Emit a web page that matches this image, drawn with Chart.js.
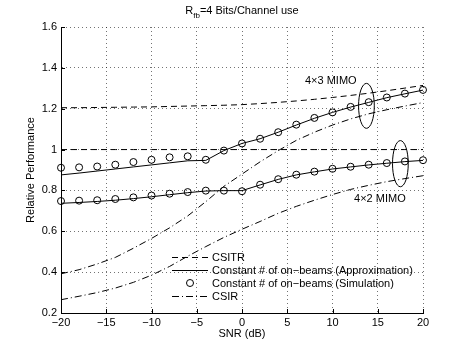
<!DOCTYPE html>
<html>
<head>
<meta charset="utf-8">
<script src="https://cdn.jsdelivr.net/npm/chart.js@4.4.1/dist/chart.umd.min.js"></script>
<style>
  body { margin: 0; background: #fff; }
</style>
</head>
<body>
<canvas id="myChart" width="466" height="350"></canvas>
<script>
const snr = [-20, -18, -16, -14, -12, -10, -8, -6, -4, -2, 0, 2, 4, 6, 8, 10, 12, 14, 16, 18, 20];
const xTicks = [-20, -15, -10, -5, 0, 5, 10, 15, 20];
const yTicks = [0.2, 0.4, 0.6, 0.8, 1, 1.2, 1.4, 1.6];

// 4x3 MIMO
const csitr43  = [1.205, 1.205, 1.206, 1.207, 1.208, 1.209, 1.211, 1.213, 1.215, 1.217, 1.220, 1.225, 1.231, 1.238, 1.246, 1.255, 1.265, 1.276, 1.288, 1.301, 1.314];
const approx43 = [0.876, 0.885, 0.895, 0.905, 0.915, 0.925, 0.935, 0.945, 0.947, 0.995, 1.030, 1.053, 1.085, 1.120, 1.153, 1.182, 1.208, 1.231, 1.254, 1.273, 1.291];
const sim43    = [0.911, 0.913, 0.917, 0.926, 0.939, 0.950, 0.962, 0.967, 0.950, 0.995, 1.030, 1.053, 1.085, 1.122, 1.155, 1.182, 1.209, 1.232, 1.255, 1.274, 1.292];
const csir43   = [0.392, 0.412, 0.440, 0.472, 0.517, 0.565, 0.617, 0.675, 0.745, 0.820, 0.880, 0.940, 0.995, 1.045, 1.085, 1.120, 1.150, 1.175, 1.195, 1.213, 1.230];

// 4x2 MIMO
const csitr42  = [1, 1, 1, 1, 1, 1, 1, 1, 1, 1, 1, 1, 1, 1, 1, 1, 1, 1, 1, 1, 1];
const approx42 = [0.737, 0.741, 0.746, 0.752, 0.760, 0.769, 0.779, 0.789, 0.797, 0.799, 0.799, 0.827, 0.854, 0.876, 0.891, 0.905, 0.915, 0.925, 0.933, 0.941, 0.947];
const sim42    = [0.748, 0.750, 0.752, 0.758, 0.766, 0.775, 0.784, 0.792, 0.799, 0.799, 0.796, 0.828, 0.855, 0.877, 0.892, 0.906, 0.916, 0.926, 0.934, 0.942, 0.948];
const csir42   = [0.265, 0.282, 0.300, 0.322, 0.350, 0.385, 0.428, 0.478, 0.525, 0.570, 0.610, 0.648, 0.688, 0.722, 0.752, 0.780, 0.805, 0.825, 0.843, 0.858, 0.872];

const legendLabels = ["CSITR", "Constant # of on\u2212beams (Approximation)", "Constant # of on\u2212beams (Simulation)", "CSIR"];

const FONT = "11px 'Liberation Sans', Arial, sans-serif";
const DASH = [6, 4];
const DASHDOT = [7, 3, 1, 3];

const pts = arr => snr.map((x, i) => ({x: x, y: arr[i]}));

function lineSet(arr, dash) {
  return {
    data: pts(arr),
    borderColor: "#000",
    borderWidth: 1,
    borderDash: dash,
    pointRadius: 0,
    fill: false,
    tension: 0
  };
}

function circleSet(arr) {
  return {
    data: pts(arr),
    showLine: false,
    pointRadius: 3.5,
    pointHoverRadius: 3.5,
    pointBorderWidth: 1,
    pointBorderColor: "#000",
    pointBackgroundColor: "rgba(0,0,0,0)",
    clip: false
  };
}

// title with subscript
const titlePlugin = {
  id: "titleSub",
  afterDraw(chart) {
    const ctx = chart.ctx;
    const a = chart.chartArea;
    const big = "11px 'Liberation Sans', Arial, sans-serif";
    const small = "8px 'Liberation Sans', Arial, sans-serif";
    ctx.save();
    ctx.fillStyle = "#000";
    ctx.textBaseline = "alphabetic";
    ctx.font = big;
    const w1 = ctx.measureText("R").width;
    const w3 = ctx.measureText("=4 Bits/Channel use").width;
    ctx.font = small;
    const w2 = ctx.measureText("fb").width;
    let x = (a.left + a.right) / 2 - (w1 + w2 + w3) / 2;
    const y = 14;
    ctx.font = big;
    ctx.fillText("R", x, y);
    x += w1;
    ctx.font = small;
    ctx.fillText("fb", x, y + 4);
    x += w2;
    ctx.font = big;
    ctx.fillText("=4 Bits/Channel use", x, y);
    ctx.restore();
  }
};

// inward tick marks on left and bottom axes
const tickPlugin = {
  id: "inTicks",
  afterDraw(chart) {
    const ctx = chart.ctx;
    const a = chart.chartArea;
    const xs = chart.scales.x, ys = chart.scales.y;
    ctx.save();
    ctx.strokeStyle = "#000";
    ctx.lineWidth = 1;
    ctx.beginPath();
    xTicks.forEach(v => {
      const px = Math.round(xs.getPixelForValue(v)) + 0.5;
      ctx.moveTo(px, a.bottom);
      ctx.lineTo(px, a.bottom - 4);
    });
    yTicks.forEach(v => {
      const py = Math.round(ys.getPixelForValue(v)) + 0.5;
      ctx.moveTo(a.left, py);
      ctx.lineTo(a.left + 4, py);
    });
    ctx.stroke();
    ctx.restore();
  }
};

// ellipses and MIMO labels
const notePlugin = {
  id: "notes",
  afterDatasetsDraw(chart) {
    const ctx = chart.ctx;
    const xs = chart.scales.x, ys = chart.scales.y;
    ctx.save();
    ctx.strokeStyle = "#000";
    ctx.lineWidth = 1;
    [[13.75, 1.214, 0.87, 0.11], [17.5, 0.931, 0.87, 0.113]].forEach(e => {
      const cx = xs.getPixelForValue(e[0]);
      const cy = ys.getPixelForValue(e[1]);
      const rx = xs.getPixelForValue(e[0] + e[2]) - cx;
      const ry = cy - ys.getPixelForValue(e[1] + e[3]);
      ctx.beginPath();
      ctx.ellipse(cx, cy, rx, ry, 0, 0, Math.PI * 2);
      ctx.stroke();
    });
    ctx.fillStyle = "#000";
    ctx.font = FONT;
    ctx.textBaseline = "middle";
    ctx.fillText("4\u00d73 MIMO", xs.getPixelForValue(6.96), ys.getPixelForValue(1.337));
    ctx.fillText("4\u00d72 MIMO", xs.getPixelForValue(12.38), ys.getPixelForValue(0.757));
    ctx.restore();
  }
};

// legend without box
const legendPlugin = {
  id: "legendBox",
  afterDraw(chart) {
    const ctx = chart.ctx;
    const x0 = 172, x1 = 208, tx = 212;
    const rows = [257, 270, 283, 296];
    ctx.save();
    ctx.strokeStyle = "#000";
    ctx.fillStyle = "#000";
    ctx.lineWidth = 1;
    ctx.font = FONT;
    ctx.textBaseline = "middle";
    const dashes = [DASH, [], null, DASHDOT];
    rows.forEach((y, i) => {
      if (dashes[i]) {
        ctx.setLineDash(dashes[i]);
        ctx.beginPath();
        ctx.moveTo(x0, y + 0.5);
        ctx.lineTo(x1, y + 0.5);
        ctx.stroke();
        ctx.setLineDash([]);
      } else {
        ctx.beginPath();
        ctx.arc((x0 + x1) / 2, y, 3.5, 0, Math.PI * 2);
        ctx.stroke();
      }
      ctx.fillText(legendLabels[i], tx, y + 0.5);
    });
    ctx.restore();
  }
};

Chart.defaults.font.family = "'Liberation Sans', Arial, sans-serif";
Chart.defaults.font.size = 11;
Chart.defaults.color = "#000";

const gridOpts = {
  color: "rgba(0,0,0,0.55)",
  lineWidth: 1,
  drawTicks: false
};

const config = {
  type: "line",
  data: {
    datasets: [
      lineSet(csitr43, DASH),
      lineSet(csitr42, DASH),
      lineSet(csir43, DASHDOT),
      lineSet(csir42, DASHDOT),
      lineSet(approx43, []),
      lineSet(approx42, []),
      circleSet(sim43),
      circleSet(sim42)
    ]
  },
  options: {
    responsive: false,
    animation: false,
    devicePixelRatio: 1,
    layout: { padding: { top: 27, right: 43, left: 0, bottom: 0 } },
    plugins: {
      legend: { display: false },
      tooltip: { enabled: false }
    },
    scales: {
      x: {
        type: "linear",
        min: -20,
        max: 20,
        afterBuildTicks: s => { s.ticks = xTicks.map(v => ({value: v})); },
        afterFit: s => { s.height = 37; },
        grid: gridOpts,
        border: { color: "#000", width: 1, dash: [1, 3] },
        ticks: {
          padding: 3,
          maxRotation: 0,
          callback: v => String(v).replace("-", "\u2212")
        },
        title: { display: true, text: "SNR (dB)", padding: { top: 0, bottom: 9 } }
      },
      y: {
        min: 0.2,
        max: 1.6,
        afterBuildTicks: s => { s.ticks = yTicks.map(v => ({value: v})); },
        afterFit: s => { s.width = 61; },
        grid: gridOpts,
        border: { color: "#000", width: 1, dash: [1, 3] },
        ticks: {
          padding: 4,
          callback: v => String(Math.round(v * 10) / 10)
        },
        title: { display: true, text: "Relative Performance", padding: { top: 24, bottom: 0 } }
      }
    }
  },
  plugins: [titlePlugin, tickPlugin, notePlugin, legendPlugin]
};

const myChart = new Chart(document.getElementById("myChart"), config);
</script>
</body>
</html>
